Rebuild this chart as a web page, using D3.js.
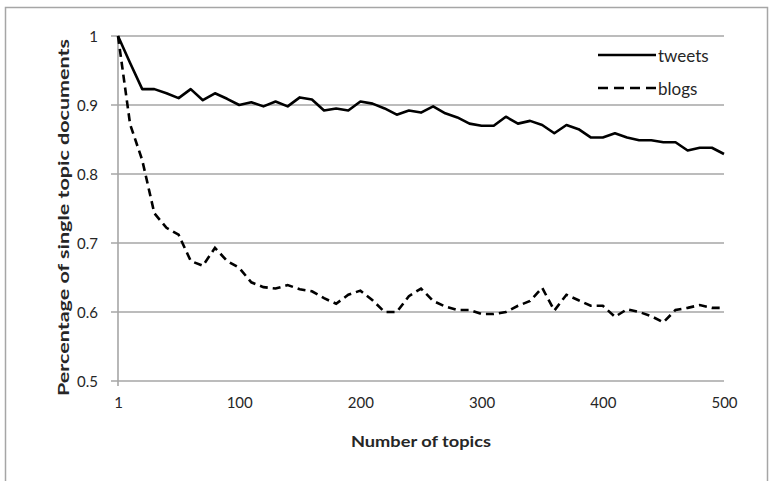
<!DOCTYPE html>
<html>
<head>
<meta charset="utf-8">
<script src="https://cdn.jsdelivr.net/npm/d3@7"></script>
<style>
  body { margin: 0; background: #fff; }
  text { font-family: Lato, "Open Sans", sans-serif; fill: #262626; }
</style>
</head>
<body>
<div id="chart"></div>
<script>
// x categories (number of topics)
var topics = [1, 10, 20, 30, 40, 50, 60, 70, 80, 90, 100, 110, 120, 130, 140, 150, 160, 170, 180, 190, 200,
              210, 220, 230, 240, 250, 260, 270, 280, 290, 300, 310, 320, 330, 340, 350, 360, 370, 380, 390, 400,
              410, 420, 430, 440, 450, 460, 470, 480, 490, 500];

var tweets = [1.000, 0.961, 0.923, 0.923, 0.917, 0.910, 0.923, 0.907, 0.917, 0.909, 0.900,
              0.904, 0.898, 0.905, 0.898, 0.911, 0.908, 0.892, 0.895, 0.892, 0.905,
              0.902, 0.895, 0.886, 0.892, 0.889, 0.898, 0.888, 0.882, 0.873, 0.870,
              0.870, 0.883, 0.873, 0.877, 0.871, 0.859, 0.871, 0.865, 0.853, 0.853,
              0.859, 0.853, 0.849, 0.849, 0.846, 0.846, 0.834, 0.838, 0.838, 0.829];

var blogs = [1.000, 0.872, 0.820, 0.743, 0.722, 0.712, 0.674, 0.667, 0.693, 0.674, 0.664,
             0.643, 0.636, 0.634, 0.639, 0.633, 0.630, 0.620, 0.612, 0.625, 0.631,
             0.617, 0.600, 0.600, 0.623, 0.634, 0.616, 0.608, 0.603, 0.603, 0.597,
             0.597, 0.600, 0.609, 0.616, 0.635, 0.602, 0.625, 0.617, 0.609, 0.609,
             0.593, 0.604, 0.600, 0.594, 0.585, 0.603, 0.606, 0.610, 0.606, 0.606];

var xTickLabels = [1, 100, 200, 300, 400, 500];
var yTicks = [0.5, 0.6, 0.7, 0.8, 0.9, 1];
var seriesNames = ["tweets", "blogs"];

var width = 771, height = 481;
var plotLeft = 118, plotRight = 724, plotTop = 36, plotBottom = 381;

var svg = d3.select("#chart").append("svg")
    .attr("width", width).attr("height", height);

// outer frame
svg.append("rect")
    .attr("x", 5.5).attr("y", 7.5)
    .attr("width", 762).attr("height", 520)
    .attr("fill", "none").attr("stroke", "#a6a6a6").attr("stroke-width", 1.5);

var x = d3.scalePoint().domain(topics).range([plotLeft, plotRight]);
var y = d3.scaleLinear().domain([0.5, 1]).range([plotBottom, plotTop]);

// gridlines with tick stub on the left
svg.append("g").selectAll("line")
    .data(yTicks)
    .enter().append("line")
    .attr("x1", plotLeft - 7).attr("x2", plotRight)
    .attr("y1", function(d) { return y(d); })
    .attr("y2", function(d) { return y(d); })
    .attr("stroke", "#a6a6a6").attr("stroke-width", 1.6);

// y axis line
svg.append("line")
    .attr("x1", plotLeft).attr("x2", plotLeft)
    .attr("y1", plotTop).attr("y2", plotBottom + 5)
    .attr("stroke", "#a6a6a6").attr("stroke-width", 1.6);

// y tick labels
var yAxis = d3.axisLeft(y).tickValues(yTicks).tickSize(0).tickPadding(0)
    .tickFormat(function(d) { return d === 1 ? "1" : d.toFixed(1); });
var gy = svg.append("g").attr("transform", "translate(" + (plotLeft - 20) + ",0)").call(yAxis);
gy.select(".domain").remove();
gy.selectAll("text").style("font-size", "15px").attr("dy", "0.35em");

// x tick labels
var xAxis = d3.axisBottom(x).tickValues(xTickLabels).tickSize(0).tickPadding(0);
var gx = svg.append("g").attr("transform", "translate(0," + (plotBottom + 22) + ")").call(xAxis);
gx.select(".domain").remove();
gx.selectAll("text").style("font-size", "15px").attr("dy", "0.35em");

// lines
var line = d3.line()
    .x(function(d, i) { return x(topics[i]); })
    .y(function(d) { return y(d); });

svg.append("path")
    .datum(tweets)
    .attr("d", line)
    .attr("fill", "none").attr("stroke", "#000").attr("stroke-width", 2.6)
    .attr("stroke-linejoin", "round");

svg.append("path")
    .datum(blogs)
    .attr("d", line)
    .attr("fill", "none").attr("stroke", "#000").attr("stroke-width", 2.6)
    .attr("stroke-dasharray", "8,5");

// axis titles
svg.append("text")
    .attr("x", (plotLeft + plotRight) / 2).attr("y", 447)
    .attr("text-anchor", "middle")
    .style("font-size", "16px").style("font-weight", "bold")
    .attr("textLength", 140).attr("lengthAdjust", "spacingAndGlyphs")
    .text("Number of topics");

svg.append("text")
    .attr("transform", "translate(69," + ((plotTop + plotBottom) / 2 + 9) + ") rotate(-90)")
    .attr("text-anchor", "middle")
    .style("font-size", "16px").style("font-weight", "bold")
    .attr("textLength", 357).attr("lengthAdjust", "spacingAndGlyphs")
    .text("Percentage of single topic documents");

// legend
var legend = svg.append("g").selectAll("g")
    .data(seriesNames)
    .enter().append("g")
    .attr("transform", function(d, i) { return "translate(598," + (55 + i * 33) + ")"; });

legend.append("line")
    .attr("x1", 0).attr("x2", 58)
    .attr("stroke", "#000").attr("stroke-width", 2.6)
    .attr("stroke-dasharray", function(d, i) { return i === 1 ? "10,6" : null; });

legend.append("text")
    .attr("x", 60).attr("dy", "0.4em")
    .style("font-size", "17px")
    .text(function(d) { return d; });
</script>
</body>
</html>
